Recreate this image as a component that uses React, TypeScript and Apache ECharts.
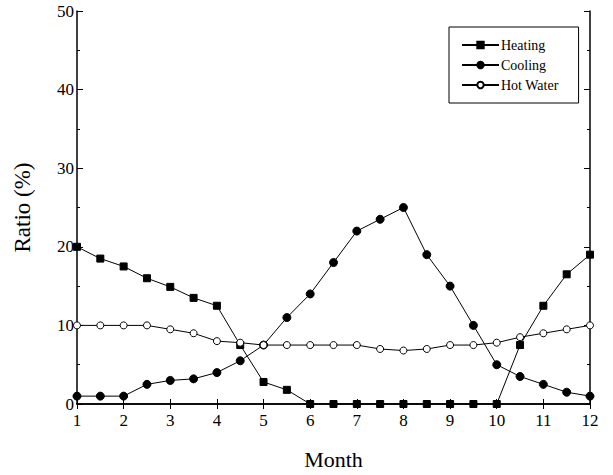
import React, { useEffect, useRef } from "react";
import * as echarts from "echarts";

const months = [1, 1.5, 2, 2.5, 3, 3.5, 4, 4.5, 5, 5.5, 6, 6.5, 7, 7.5, 8, 8.5, 9, 9.5, 10, 10.5, 11, 11.5, 12];
const heating = [20, 18.5, 17.5, 16, 14.9, 13.5, 12.5, 7.5, 2.8, 1.8, 0, 0, 0, 0, 0, 0, 0, 0, 0, 7.5, 12.5, 16.5, 19];
const cooling = [1, 1, 1, 2.5, 3, 3.2, 4, 5.5, 7.5, 11, 14, 18, 22, 23.5, 25, 19, 15, 10, 5, 3.5, 2.5, 1.5, 1];
const hotWater = [10, 10, 10, 10, 9.5, 9, 8, 7.8, 7.5, 7.5, 7.5, 7.5, 7.5, 7, 6.8, 7, 7.5, 7.5, 7.8, 8.5, 9, 9.5, 10];
const seriesNames = ["Heating", "Cooling", "Hot Water"];

const FONT = "'Liberation Serif', 'Times New Roman', Times, serif";

export default function App() {
  const ref = useRef<HTMLDivElement>(null);
  useEffect(() => {
    const chart = echarts.init(ref.current!, undefined, { renderer: "svg" });
    const pair = (ys: number[]) => months.map((m, i) => [m, ys[i]]);
    const axisLine = { show: true, lineStyle: { color: "#000", width: 1.5 } };
    const common = {
      type: "line" as const,
      lineStyle: { color: "#000", width: 1 },
      itemStyle: { color: "#000", borderColor: "#000", borderWidth: 1 },
      emphasis: { disabled: true },
    };
    chart.setOption({
      animation: false,
      backgroundColor: "#fff",
      grid: { left: 77, right: 23, top: 11, bottom: 71 },
      legend: {
        orient: "vertical",
        left: 449,
        top: 27,
        padding: [11, 20, 11, 12],
        itemWidth: 37,
        itemHeight: 8,
        itemGap: 6,
        borderColor: "#000",
        borderWidth: 1,
        textStyle: { fontFamily: FONT, fontSize: 14, color: "#000", padding: [0, 0, 0, -3] },
        data: seriesNames,
      },
      xAxis: [
        {
          type: "value",
          min: 1,
          max: 12,
          interval: 1,
          position: "bottom",
          name: "Month",
          nameLocation: "middle",
          nameGap: 44,
          nameTextStyle: { fontFamily: FONT, fontSize: 22, color: "#000" },
          axisLine,
          axisTick: { inside: true, length: 5, lineStyle: { color: "#000", width: 1 } },
          axisLabel: { fontFamily: FONT, fontSize: 17, color: "#000", margin: 8 },
          splitLine: { show: false },
        },
        {
          type: "value",
          min: 1,
          max: 12,
          interval: 1,
          position: "top",
          axisLine,
          axisTick: { inside: true, length: 5, lineStyle: { color: "#000", width: 1 } },
          axisLabel: { show: false },
          splitLine: { show: false },
        },
      ],
      yAxis: [
        {
          type: "value",
          min: 0,
          max: 50,
          interval: 10,
          position: "left",
          name: "Ratio (%)",
          nameLocation: "middle",
          nameGap: 43,
          nameTextStyle: { fontFamily: FONT, fontSize: 23, color: "#000" },
          axisLine,
          axisTick: { inside: true, length: 6, lineStyle: { color: "#000", width: 1 } },
          minorTick: { show: true, splitNumber: 2, length: 3, lineStyle: { color: "#000", width: 1 } },
          axisLabel: { fontFamily: FONT, fontSize: 17, color: "#000", margin: 3 },
          splitLine: { show: false },
        },
        {
          type: "value",
          min: 0,
          max: 50,
          interval: 10,
          position: "right",
          axisLine,
          axisTick: { inside: true, length: 6, lineStyle: { color: "#000", width: 1 } },
          minorTick: { show: true, splitNumber: 2, length: 3, lineStyle: { color: "#000", width: 1 } },
          axisLabel: { show: false },
          splitLine: { show: false },
        },
      ],
      series: [
        { ...common, name: "Heating", data: pair(heating), symbol: "rect", symbolSize: 7 },
        { ...common, name: "Cooling", data: pair(cooling), symbol: "circle", symbolSize: 8 },
        {
          ...common,
          name: "Hot Water",
          data: pair(hotWater),
          symbol: "circle",
          symbolSize: 7,
          itemStyle: { color: "#fff", borderColor: "#000", borderWidth: 1 },
        },
      ],
    });
    return () => chart.dispose();
  }, []);
  return (
    <div
      ref={ref}
      style={{ position: "fixed", left: 0, top: 0, width: 613, height: 475 }}
    />
  );
}
